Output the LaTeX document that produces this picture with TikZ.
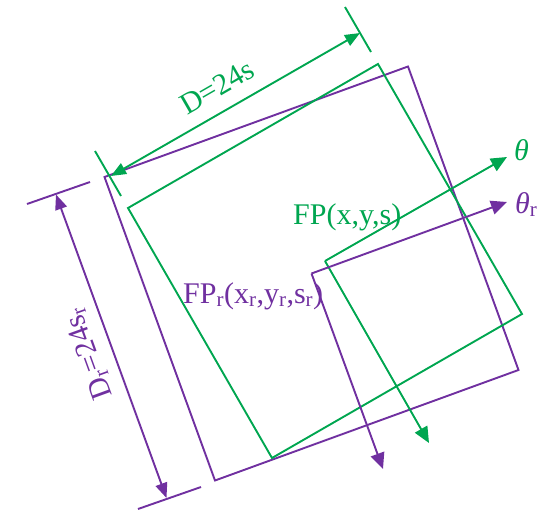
\documentclass[tikz,border=0pt]{standalone}
\usepackage{fontspec}
\setmainfont{Liberation Serif}
\usetikzlibrary{arrows.meta}
\definecolor{fpgreen}{RGB}{0,166,80}
\definecolor{fppurple}{RGB}{112,48,160}
\newcommand{\lowr}{\textsubscript{r}}
\begin{document}
\begin{tikzpicture}[x=1pt,y=-1pt,
  ln/.style={line width=1.9pt, line join=miter},
  gl/.style={ln, draw=fpgreen},
  pl/.style={ln, draw=fppurple},
  tipend/.style={-{Triangle[length=16pt,width=14pt]}},
  tipboth/.style={{Triangle[length=15pt,width=12pt]}-{Triangle[length=15pt,width=12pt]}},
  lbl/.style={inner sep=0pt, font=\fontsize{30}{32}\selectfont}]
\useasboundingbox (0,0) rectangle (538,511);
% green square
\coordinate (gTL) at (128,208);
\coordinate (gT) at (378,64);
\coordinate (gR) at (522,314);
\coordinate (gB) at (272,458);
\coordinate (gc) at (325,261);
\coordinate (gth) at (507,157);
\coordinate (gdn) at (429,443);
% purple square
\coordinate (pTL) at (104.5,177);
\coordinate (pTR) at (408,66.5);
\coordinate (pBR) at (518.5,370);
\coordinate (pBL) at (215,480.5);
\coordinate (pc) at (311.5,273.5);
\coordinate (pth) at (507,202);
\coordinate (pdn) at (383,469);
% green dimension
\coordinate (gd1) at (111,176);
\coordinate (gd2) at (360,33);
\coordinate (ge1a) at (95,151);
\coordinate (ge1b) at (121,196);
\coordinate (ge2a) at (345,7);
\coordinate (ge2b) at (371,52);
% purple dimension
\coordinate (pd1) at (56,194.5);
\coordinate (pd2) at (166.5,498);
\coordinate (pe1a) at (27,204);
\coordinate (pe1b) at (90,182);
\coordinate (pe2a) at (138,509);
\coordinate (pe2b) at (201,487);

\draw[pl] (pTL) -- (pTR) -- (pBR) -- (pBL) -- cycle;
\draw[gl] (gTL) -- (gT) -- (gR) -- (gB) -- cycle;

\draw[gl, fill=fpgreen, tipend] (gc) -- (gth);
\draw[gl, fill=fpgreen, tipend] (gc) -- (gdn);
\draw[pl, fill=fppurple, tipend] (pc) -- (pth);
\draw[pl, fill=fppurple, tipend] (pc) -- (pdn);

\draw[gl] (ge1a) -- (ge1b);
\draw[gl] (ge2a) -- (ge2b);
\draw[gl, fill=fpgreen, tipboth] (gd1) -- (gd2);
\draw[pl] (pe1a) -- (pe1b);
\draw[pl] (pe2a) -- (pe2b);
\draw[pl, fill=fppurple, tipboth] (pd1) -- (pd2);

\node[lbl, text=fpgreen, anchor=base west] (lblG) at (293,224) {FP(x,y,s)};
\node[lbl, text=fppurple, anchor=base west] (lblP) at (183,303) {FP\lowr(x\lowr,y\lowr,s\lowr)};
\node[lbl, text=fpgreen, anchor=base west] (th) at (514,160) {\textit{θ}};
\node[lbl, text=fppurple, anchor=base west] (thr) at (515,213) {\textit{θ}\lowr};
\node[lbl, text=fpgreen, rotate=30] (dG) at (217,87) {D=24s};
\node[lbl, text=fppurple, rotate=110] (dP) at (89,354) {D\lowr=24s\lowr};
\end{tikzpicture}
\end{document}
